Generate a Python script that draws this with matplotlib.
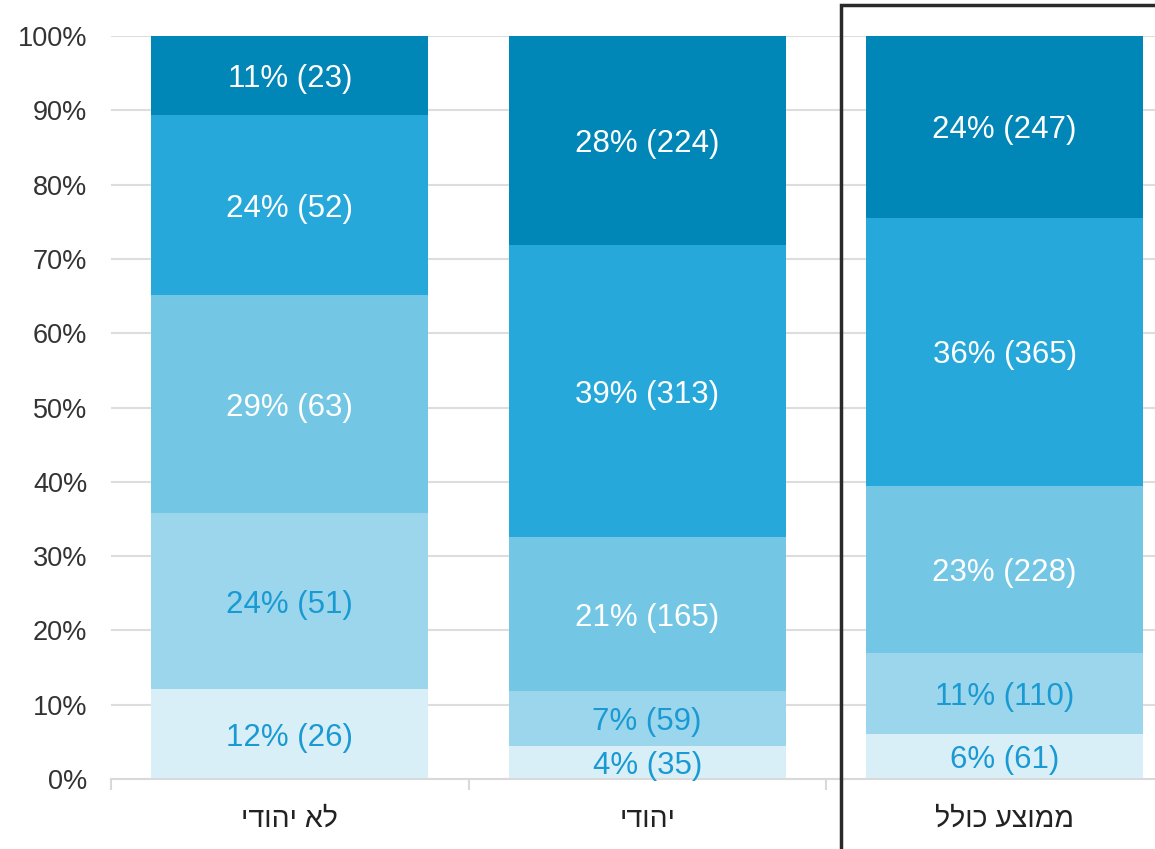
import matplotlib
matplotlib.use("Agg")
import matplotlib.pyplot as plt
import matplotlib.transforms as mtransforms
from matplotlib.patches import Rectangle
import numpy as np

plt.rcParams['font.family'] = ['Liberation Sans', 'DejaVu Sans']

categories = ["לא יהודי", "יהודי", "ממוצע כולל"]
# segments bottom -> top
counts = {
    "לא יהודי": [26, 51, 63, 52, 23],
    "יהודי": [35, 59, 165, 313, 224],
    "ממוצע כולל": [61, 110, 228, 365, 247],
}
pct_labels = {
    "לא יהודי": ["12%", "24%", "29%", "24%", "11%"],
    "יהודי": ["4%", "7%", "21%", "39%", "28%"],
    "ממוצע כולל": ["6%", "11%", "23%", "36%", "24%"],
}
seg_colors = ["#d9eff8", "#9bd6ec", "#73c7e5", "#26a9da", "#0086b7"]
text_colors = ["#1a9ad3", "#1a9ad3", "white", "white", "white"]
yticks = list(range(0, 101, 10))

W, H = 1155, 849
fig = plt.figure(figsize=(W / 100, H / 100), dpi=100)
left = 111 / W
bottom = (H - 779) / H
top = (H - 36) / H
width = 3 * 357.5 / W
ax = fig.add_axes([left, bottom, width, top - bottom])

x = np.arange(len(categories))
bar_w = 277 / 357.5
for i, cat in enumerate(categories):
    vals = np.array(counts[cat], dtype=float)
    pcts = vals / vals.sum() * 100
    base = 0.0
    for j, p in enumerate(pcts):
        ax.bar(x[i], p, bottom=base, width=bar_w, color=seg_colors[j],
               edgecolor='none', zorder=2)
        ax.text(x[i], base + p / 2, f"{pct_labels[cat][j]} ({counts[cat][j]})",
                ha='center', va='center_baseline', color=text_colors[j],
                fontsize=22.5, zorder=3)
        base += p

ax.set_xlim(-0.5, 2.5)
ax.set_ylim(0, 100)
ax.set_yticks(yticks)
ax.set_yticklabels([f"{t}%" for t in yticks], fontsize=19.5, color='#333333')
ax.tick_params(axis='y', length=0, pad=17)
ax.yaxis.grid(True, color='#dddddd', linewidth=1.5, zorder=0)
ax.set_axisbelow(True)

ax.set_xticks([-0.5, 0.5, 1.5, 2.5])
ax.set_xticklabels([])
ax.tick_params(axis='x', length=8, width=1.5, color='#d9d9d9', direction='out')
ax.set_xticks(x, minor=True)
ax.set_xticklabels([c[::-1] for c in categories], minor=True, fontsize=20.5, color='#222222')
ax.tick_params(axis='x', which='minor', length=0, pad=20)

for s in ['top', 'right', 'left']:
    ax.spines[s].set_visible(False)
ax.spines['bottom'].set_color('#d9d9d9')
ax.spines['bottom'].set_linewidth(1.5)

# highlight frame around the overall average column
trans = mtransforms.blended_transform_factory(ax.transData, fig.transFigure)
x0 = 1.542
rect = Rectangle((x0, -0.05), 2.0, (H - 5) / H + 0.05, transform=trans,
                 fill=False, edgecolor='#2a2a2a', linewidth=2.5, clip_on=False, zorder=5)
fig.add_artist(rect)

fig.savefig("out.png", dpi=100)
